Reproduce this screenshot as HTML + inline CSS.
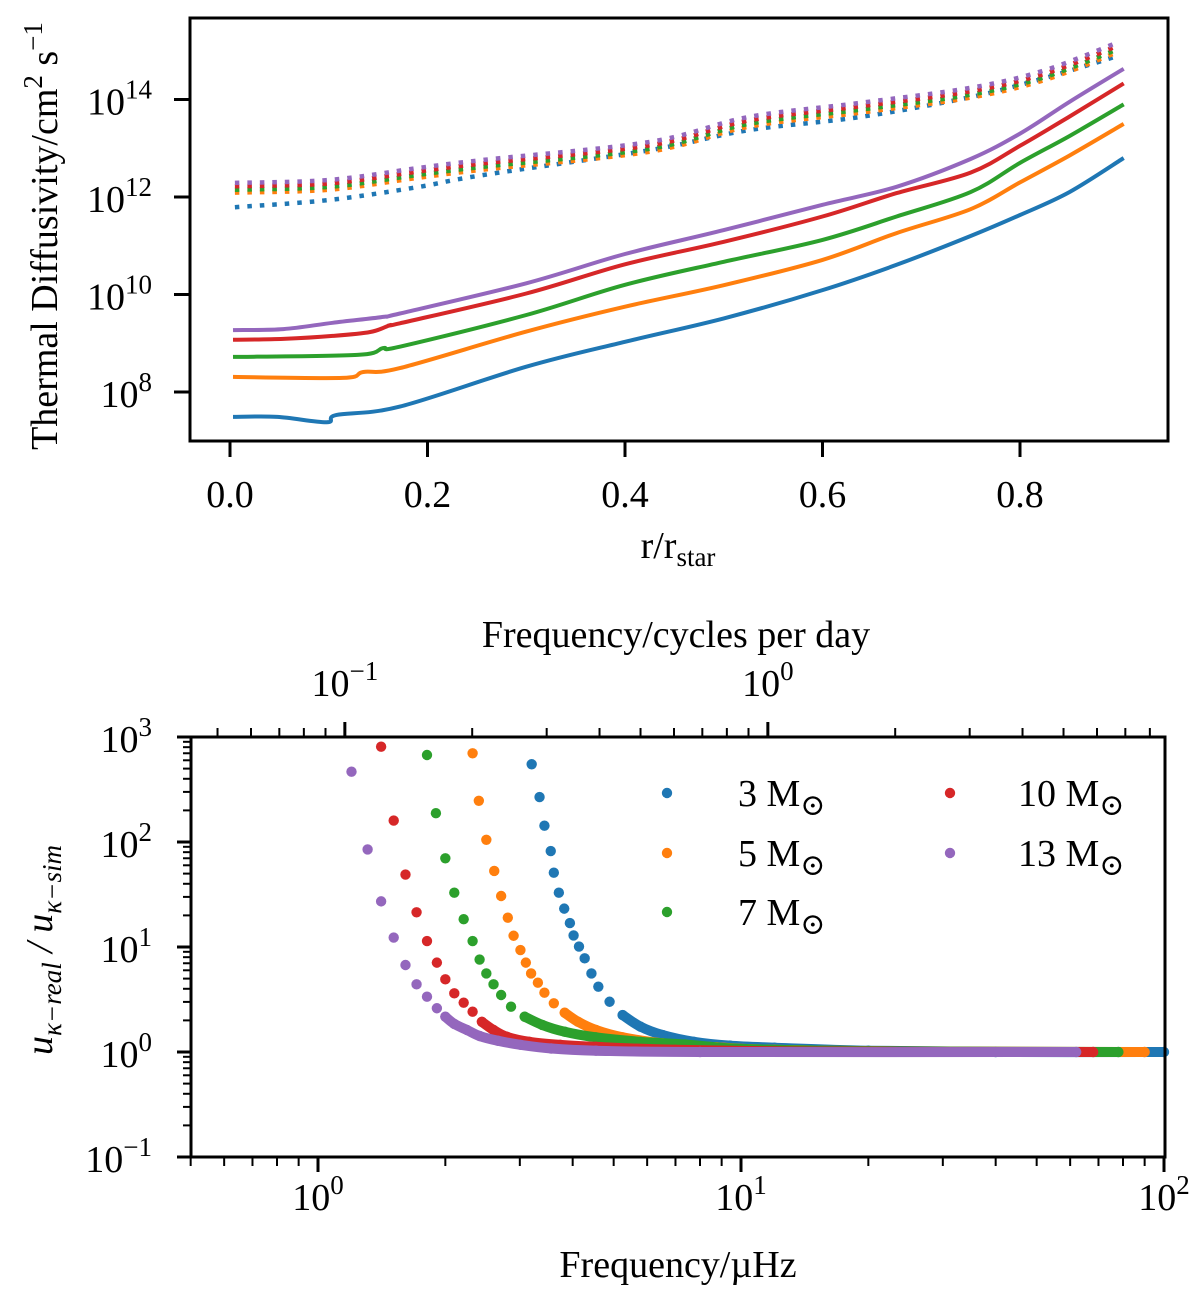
<!DOCTYPE html>
<html><head><meta charset="utf-8"><style>
html,body{margin:0;padding:0;background:#fff;}
svg{display:block;font-family:"Liberation Serif","DejaVu Serif",serif;}
</style></head><body>
<svg id="fig" width="1200" height="1297" viewBox="0 0 1200 1297" xmlns="http://www.w3.org/2000/svg">
<g id="topchart"></g>
<g id="botchart"></g>
</svg>
<script>
const colors=["#1f77b4","#ff7f0e","#2ca02c","#d62728","#9467bd"];
const masses=["3","5","7","10","13"];
// ---- top chart data (r/rstar, log10 diffusivity)
const solidR=[
 [0.003,0.048,0.098,0.108,0.172,0.3,0.4,0.5,0.6,0.675,0.75,0.8,0.85,0.905],
 [0.003,0.114,0.135,0.172,0.3,0.4,0.5,0.6,0.675,0.75,0.8,0.85,0.905],
 [0.003,0.129,0.155,0.172,0.3,0.4,0.5,0.6,0.675,0.75,0.8,0.85,0.905],
 [0.003,0.054,0.104,0.142,0.162,0.172,0.3,0.4,0.5,0.6,0.675,0.75,0.8,0.85,0.905],
 [0.003,0.054,0.104,0.155,0.172,0.3,0.4,0.5,0.6,0.675,0.75,0.8,0.85,0.905]];
const solidLog=[
 [7.49,7.49,7.38,7.53,7.70,8.52,9.03,9.51,10.09,10.61,11.2,11.63,12.1,12.8],
 [8.31,8.29,8.41,8.49,9.24,9.75,10.19,10.71,11.26,11.75,12.3,12.85,13.5],
 [8.72,8.76,8.90,8.93,9.58,10.2,10.67,11.12,11.60,12.1,12.7,13.25,13.9],
 [9.07,9.09,9.15,9.23,9.37,9.41,10.02,10.62,11.08,11.60,12.08,12.5,13.05,13.65,14.33],
 [9.27,9.29,9.42,9.54,9.61,10.23,10.83,11.32,11.84,12.21,12.78,13.3,13.95,14.63]];
const dotR=[0.005,0.101,0.189,0.256,0.425,0.525,0.638,0.75,0.825,0.9];
const dotLog=[
 [11.79,11.94,12.2,12.45,12.96,13.37,13.64,14.05,14.44,14.9],
 [12.09,12.15,12.39,12.56,12.93,13.44,13.73,14.04,14.4,14.98],
 [12.15,12.21,12.45,12.62,12.99,13.5,13.79,14.1,14.46,15.04],
 [12.22,12.28,12.52,12.69,13.06,13.57,13.86,14.17,14.53,15.11],
 [12.29,12.35,12.59,12.76,13.13,13.64,13.93,14.24,14.6,15.18]];
const topXTicks=[0.0,0.2,0.4,0.6,0.8];
const topYTicks=[8,10,12,14];
// ---- bottom chart data (frequency µHz, ratio)
const freq=[
 [3.20,3.34,3.43,3.55,3.61,3.71,3.82,3.94,4.02,4.14,4.27,4.43,4.60,4.89,5.25,5.79,6.53,7.74,9.41,12.0,20,40,100],
 [2.32,2.40,2.50,2.61,2.71,2.81,2.90,3.01,3.10,3.19,3.31,3.43,3.61,3.83,4.12,4.54,5.25,6.53,8.75,12,25,90],
 [1.81,1.90,2.00,2.10,2.21,2.32,2.41,2.50,2.60,2.71,2.86,3.08,3.39,3.83,4.54,5.79,7.38,10,20,78],
 [1.41,1.51,1.61,1.71,1.81,1.91,2.00,2.10,2.21,2.32,2.44,2.60,2.79,3.16,3.74,4.54,7,15,68],
 [1.20,1.31,1.41,1.51,1.61,1.71,1.81,1.91,2.00,2.10,2.25,2.41,2.66,3.01,3.56,4.54,8,62]];
const ratio=[
 [550,268,143,82,51,32.9,23.2,16.9,12.9,10.1,7.8,5.6,4.19,3.01,2.25,1.74,1.45,1.25,1.15,1.10,1.03,1.0,1.0],
 [700,247,105,53,30.6,19.0,12.8,9.36,7.1,5.6,4.57,3.67,2.91,2.37,1.94,1.62,1.38,1.21,1.11,1.05,1.01,1.0],
 [674,188,70,32.9,18.4,11.4,7.6,5.6,4.41,3.49,2.70,2.17,1.81,1.56,1.38,1.25,1.18,1.07,1.02,1.0],
 [808,160,49,21.4,11.4,7.1,4.92,3.62,2.95,2.42,1.94,1.62,1.40,1.25,1.17,1.12,1.05,1.01,1.0],
 [467,85,27.2,12.3,6.74,4.41,3.36,2.61,2.17,1.85,1.62,1.42,1.28,1.17,1.08,1.03,1.0,1.0]];
const botYTicks=[-1,0,1,2,3];
const botXTicks=[0,1,2];
const cpdTicks=[-1,0];
const CPD=0.0864;
const FS=38, FSS=27;

const NS="http://www.w3.org/2000/svg";
function mk(tag,attrs,parent,text){const e=document.createElementNS(NS,tag);for(const k in attrs)e.setAttribute(k,attrs[k]);if(text!==undefined)e.textContent=text;parent.appendChild(e);return e;}
function smooth(pts){
  let d="M"+pts[0][0].toFixed(1)+","+pts[0][1].toFixed(1);
  for(let i=0;i<pts.length-1;i++){
    const p0=pts[Math.max(0,i-1)],p1=pts[i],p2=pts[i+1],p3=pts[Math.min(pts.length-1,i+2)];
    const k=1/6;
    const c1=[p1[0]+(p2[0]-p0[0])*k,p1[1]+(p2[1]-p0[1])*k];
    const c2=[p2[0]-(p3[0]-p1[0])*k,p2[1]-(p3[1]-p1[1])*k];
    d+=" C"+c1.map(v=>v.toFixed(1)).join(",")+" "+c2.map(v=>v.toFixed(1)).join(",")+" "+p2[0].toFixed(1)+","+p2[1].toFixed(1);
  }
  return d;
}
function powLabel(parent,x,y,exp,anchor,name){
  const t=mk("text",{x:x,y:y,"font-size":FS,"text-anchor":anchor,fill:"#000"},parent);
  
  
  mk("tspan",{},t,"10");
  mk("tspan",{dy:-16,"font-size":FSS},t,String(exp).replace("-","\u2212"));
  return t;
}
// ===== TOP
const topG=document.getElementById("topchart");
const TL=190,TR=1168,TT=18,TB=441;
const tx=r=>230+987.5*r;
const ty=l=>392-(l-8)*48.75;
for(let s=0;s<5;s++){
  const p=dotR.map((r,i)=>[tx(r),ty(dotLog[s][i])]);
  const pl=mk("path",{d:smooth(p),fill:"none",stroke:colors[s],"stroke-width":4.5,"stroke-dasharray":"4.5 8"},topG);
  
  
}
for(let s=0;s<5;s++){
  const p=solidR[s].map((r,i)=>[tx(r),ty(solidLog[s][i])]);
  const pl=mk("path",{d:smooth(p),fill:"none",stroke:colors[s],"stroke-width":4,"stroke-linejoin":"round"},topG);
  
  
}
const tframe=mk("rect",{x:TL,y:TT,width:TR-TL,height:TB-TT,fill:"none",stroke:"#000","stroke-width":3},topG);


topXTicks.forEach(v=>{
  const x=tx(v);
  const tk=mk("line",{x1:x,x2:x,y1:TB,y2:TB+16,stroke:"#000","stroke-width":3},topG);
  
  
  const lb=mk("text",{x:x,y:507,"font-size":FS,"text-anchor":"middle"},topG,v.toFixed(1));
  
  
});
topYTicks.forEach(v=>{
  const y=ty(v);
  const tk=mk("line",{x1:TL-16,x2:TL,y1:y,y2:y,stroke:"#000","stroke-width":3},topG);
  
  
  powLabel(topG,152,y+15,v,"end",'y-tick-label');
});
{
 const t=mk("text",{x:678,y:558,"font-size":FS,"text-anchor":"middle"},topG);
 
 
 mk("tspan",{},t,"r/r");mk("tspan",{dy:8,"font-size":FSS},t,"star");
 const y=mk("text",{x:0,y:0,"font-size":FS,"text-anchor":"middle",transform:"translate(57,236) rotate(-90)"},topG);
 
 
 mk("tspan",{},y,"Thermal Diffusivity/cm");mk("tspan",{dy:-15,"font-size":FSS},y,"2");
 mk("tspan",{dy:15},y," s");mk("tspan",{dy:-15,"font-size":FSS},y,"\u22121");
}
// ===== BOTTOM
const botG=document.getElementById("botchart");
const BL=191,BR=1165,BT=737,BB=1157;
const bx=f=>318+423*Math.log10(f);
const by=r=>1052-105*Math.log10(r);
for(let s=0;s<5;s++){
  const tail=[];
  freq[s].forEach((f,i)=>{if(ratio[s][i]<2.4)tail.push([bx(f),by(ratio[s][i])]);});
  const pl=mk("path",{d:smooth(tail),fill:"none",stroke:colors[s],"stroke-width":10,"stroke-linecap":"round","stroke-linejoin":"round"},botG);
  
  
  freq[s].forEach((f,i)=>{
    const c=mk("circle",{cx:bx(f),cy:by(ratio[s][i]),r:5.2,fill:colors[s]},botG);
    
    
  });
}
const bframe=mk("rect",{x:BL,y:BT,width:BR-BL,height:BB-BT,fill:"none",stroke:"#000","stroke-width":3},botG);


for(let d=-1;d<3;d++){for(let m=2;m<10;m++){const y=by(m*Math.pow(10,d));
  const tk=mk("line",{x1:BL-8,x2:BL,y1:y,y2:y,stroke:"#000","stroke-width":2},botG);
  
  }}
botYTicks.forEach(v=>{const y=by(Math.pow(10,v));
  const tk=mk("line",{x1:BL-14,x2:BL,y1:y,y2:y,stroke:"#000","stroke-width":3},botG);
  
  
  powLabel(botG,152,y+15,v,"end",'y-tick-label');});
for(let d=-1;d<2;d++){for(let m=2;m<10;m++){const f=m*Math.pow(10,d);if(f<0.5||f>100)continue;const x=bx(f);
  const tk=mk("line",{x1:x,x2:x,y1:BB,y2:BB+9,stroke:"#000","stroke-width":2},botG);
  
  }}
botXTicks.forEach(v=>{const x=bx(Math.pow(10,v));
  const tk=mk("line",{x1:x,x2:x,y1:BB,y2:BB+15,stroke:"#000","stroke-width":3},botG);
  
  
  powLabel(botG,x,1210,v,"middle",'x-tick-label');});
for(let d=-2;d<1;d++){for(let m=2;m<10;m++){const c=m*Math.pow(10,d);const f=c/CPD;if(f<0.5||f>100)continue;const x=bx(f);
  const tk=mk("line",{x1:x,x2:x,y1:BT-9,y2:BT,stroke:"#000","stroke-width":2},botG);
  
  }}
cpdTicks.forEach(v=>{const x=bx(Math.pow(10,v)/CPD);
  const tk=mk("line",{x1:x,x2:x,y1:BT-15,y2:BT,stroke:"#000","stroke-width":3},botG);
  
  
  powLabel(botG,x,696,v,"middle",'cpd-tick-label');});
{
 const t=mk("text",{x:676,y:647,"font-size":FS,"text-anchor":"middle"},botG,"Frequency/cycles per day");
 
 
 const b=mk("text",{x:678,y:1277,"font-size":FS,"text-anchor":"middle"},botG,"Frequency/\u00b5Hz");
 
 
 const y=mk("text",{x:0,y:0,"font-size":FS,"text-anchor":"middle","font-style":"italic",transform:"translate(52,950) rotate(-90)"},botG);
 
 
 mk("tspan",{},y,"u");mk("tspan",{dy:9,"font-size":FSS},y,"\u03ba\u2212real");
 mk("tspan",{dy:-9},y," / u");mk("tspan",{dy:9,"font-size":FSS},y,"\u03ba\u2212sim");
}
const legPos=[[667,793],[667,853],[667,912],[950,793],[950,853]];
const legText=[738,738,738,1018,1018];
for(let s=0;s<5;s++){
  const g=mk("g",{},botG);
  
  
  mk("circle",{cx:legPos[s][0],cy:legPos[s][1],r:5.2,fill:colors[s]},g);
  const t=mk("text",{x:legText[s],y:legPos[s][1]+13,"font-size":FS},g);
  mk("tspan",{},t,masses[s]+" M");
  mk("tspan",{dy:9,"font-size":30},t,"\u2299");
}
</script>
</body></html>
